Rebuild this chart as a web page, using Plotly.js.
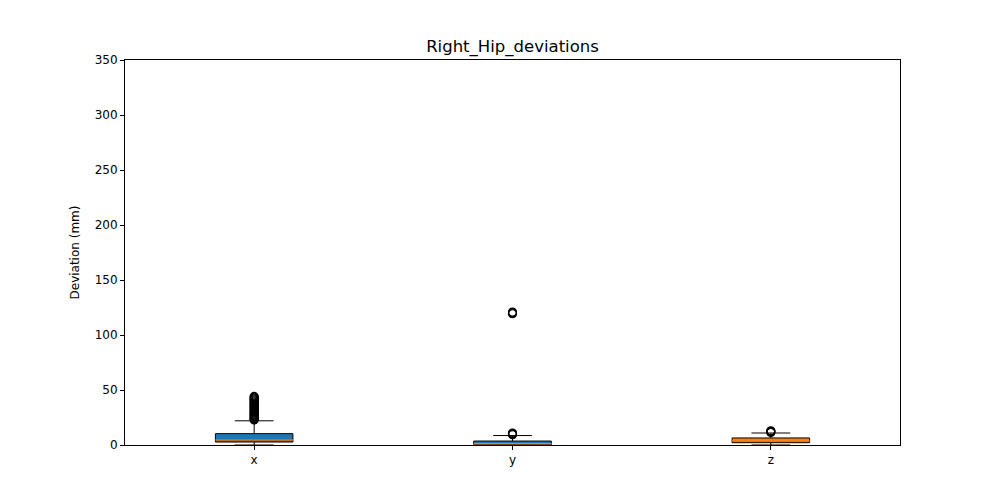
<!DOCTYPE html>
<html>
<head>
<meta charset="utf-8">
<script src="https://cdn.plot.ly/plotly-3.0.1.min.js"></script>
<style>html,body{margin:0;padding:0;background:#fff;}#chart{width:1000px;height:500px;}</style>
</head>
<body>
<div id="chart"></div>
<script>
// Data
const categories = ['x', 'y', 'z'];
const positions = [1, 2, 3];
const lowerWhisker = [0.0, 0.0, 0.0];
const q1Values = [2.7, 0.3, 2.1];
const medianValues = [4.5, 1.2, 4.0];
const q3Values = [10.3, 3.6, 6.4];
const upperWhisker = [22.0, 8.6, 10.9];
const boxColors = ['#1f77b4', '#1f77b4', '#ff7f0e'];
const outliersX = [22.8, 23.5, 24.2, 25.0, 25.8, 26.5, 27.3, 28.1, 29.0, 29.8, 30.6, 31.4, 32.3, 33.1, 34.0, 34.8, 35.7, 36.5, 37.4, 38.2, 39.1, 40.0, 40.9, 41.8, 42.6, 43.4, 44.2];
const outliersY = [9.3, 9.8, 10.4, 10.9, 119.3, 120.1, 120.8];
const outliersZ = [11.4, 11.9, 12.4, 12.9];
const outlierSets = [outliersX, outliersY, outliersZ];
const yTicks = [0, 50, 100, 150, 200, 250, 300, 350];

const boxWidth = 0.3;
const traces = [];
for (let i = 0; i < categories.length; i++) {
  traces.push({
    type: 'box',
    x: [positions[i]],
    q1: [q1Values[i]],
    median: [medianValues[i]],
    q3: [q3Values[i]],
    lowerfence: [lowerWhisker[i]],
    upperfence: [upperWhisker[i]],
    width: boxWidth,
    whiskerwidth: 0.5,
    fillcolor: boxColors[i],
    line: {color: '#000000', width: 1},
    boxpoints: false,
    hoverinfo: 'skip',
    showlegend: false
  });
}
for (let i = 0; i < categories.length; i++) {
  traces.push({
    type: 'scatter', mode: 'lines',
    x: [positions[i] - boxWidth / 2, positions[i] + boxWidth / 2],
    y: [medianValues[i], medianValues[i]],
    line: {color: '#ff7f0e', width: 1.5},
    hoverinfo: 'skip', showlegend: false
  });
  traces.push({
    type: 'scatter', mode: 'markers',
    x: outlierSets[i].map(() => positions[i]),
    y: outlierSets[i],
    marker: {symbol: 'circle-open', size: 8, color: '#000000', line: {width: 1.2, color: '#000000'}},
    hoverinfo: 'skip', showlegend: false
  });
}

const layout = {
  width: 1000, height: 500,
  margin: {l: 125, r: 100, t: 60, b: 55},
  paper_bgcolor: '#ffffff', plot_bgcolor: '#ffffff',
  font: {family: 'DejaVu Sans, sans-serif', size: 12, color: '#000000'},
  title: {text: 'Right_Hip_deviations', x: 0.5125, xanchor: 'center', y: 0.908, yanchor: 'middle', font: {size: 16.5, color: '#000000'}},
  xaxis: {
    range: [0.5, 3.5], tickvals: positions, ticktext: categories,
    showgrid: false, zeroline: false, showline: true, mirror: true,
    linecolor: '#000000', linewidth: 1, ticks: 'outside', ticklen: 4, tickcolor: '#000000',
    tickfont: {size: 12}
  },
  yaxis: {
    range: [0, 350], tickvals: yTicks,
    showgrid: false, zeroline: false, showline: true, mirror: true,
    linecolor: '#000000', linewidth: 1, ticks: 'outside', ticklen: 4, tickcolor: '#000000',
    tickfont: {size: 12},
    title: {text: 'Deviation (mm)', font: {size: 12}, standoff: 12}
  }
};
Plotly.newPlot('chart', traces, layout, {displayModeBar: false, staticPlot: true});
</script>
</body>
</html>
